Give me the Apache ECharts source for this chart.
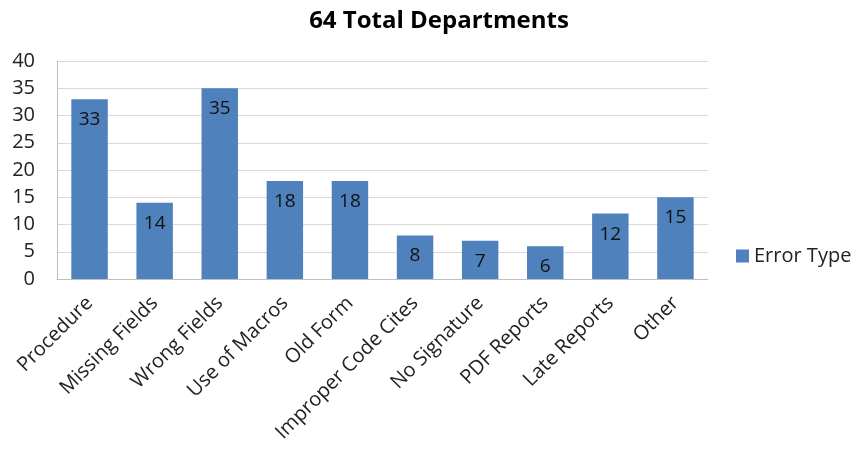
<!DOCTYPE html>
<html><head><meta charset="utf-8">
<script src="https://cdn.jsdelivr.net/npm/echarts@6/dist/echarts.min.js"></script>
<style>html,body{margin:0;padding:0;background:#fff}#c{width:856px;height:457px}</style>
</head><body><div id="c"></div>
<script>
const categories = ["Procedure","Missing Fields","Wrong Fields","Use of Macros","Old Form","Improper Code Cites","No Signature","PDF Reports","Late Reports","Other"];
const errorType = [33,14,35,18,18,8,7,6,12,15];
const seriesName = "Error Type";
const titleText = "64 Total Departments";

const chart = echarts.init(document.getElementById('c'));
const font = "'Open Sans', sans-serif";
chart.setOption({
  animation:false,
  title:{text:titleText,left:434,textAlign:'center',top:4,textStyle:{fontFamily:font,fontSize:24,fontWeight:'bold',color:'#000'}},
  legend:{data:[seriesName],left:731,top:241,orient:'vertical',icon:'rect',itemWidth:13,itemHeight:13,itemGap:5,
    textStyle:{fontFamily:font,fontSize:20,color:'#222'}},
  grid:{left:57,right:148,top:61,bottom:178},
  xAxis:{type:'category',data:categories,
    axisLine:{lineStyle:{color:'#bfbfbf'}},axisTick:{show:false},
    axisLabel:{rotate:45,interval:0,fontFamily:font,fontSize:20,color:'#222',margin:21}},
  yAxis:{type:'value',min:0,max:40,interval:5,
    axisLine:{show:true,lineStyle:{color:'#bfbfbf'}},axisTick:{show:false},
    splitLine:{lineStyle:{color:'#d9d9d9'}},
    axisLabel:{fontFamily:font,fontSize:20,color:'#222',margin:22}},
  series:[{name:seriesName,type:'bar',data:errorType,barWidth:'56%',
    itemStyle:{color:'#4f81bd'},
    label:{show:true,position:'insideTop',distance:11,fontFamily:font,fontSize:19,color:'#111'}}]
});
</script></body></html>
